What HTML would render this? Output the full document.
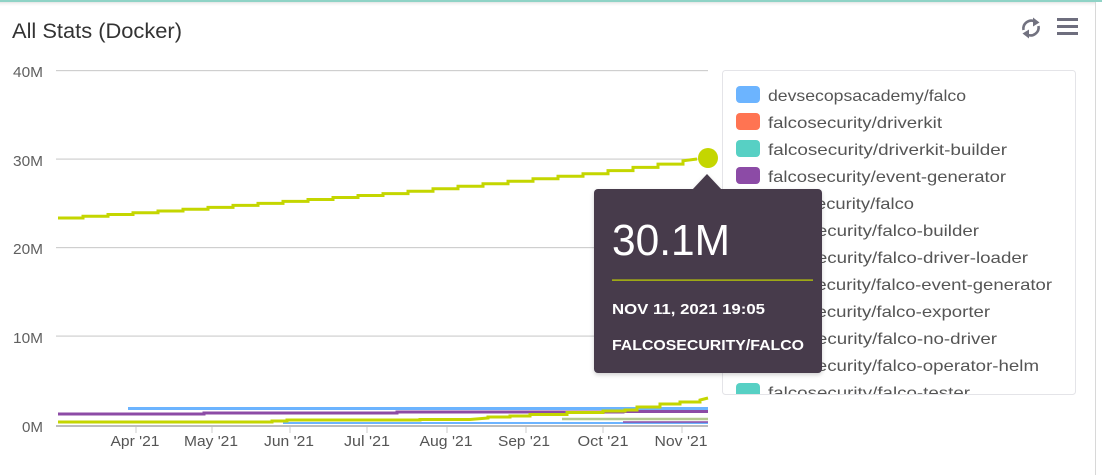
<!DOCTYPE html>
<html><head><meta charset="utf-8"><style>
html,body{margin:0;padding:0;background:#fff;width:1102px;height:475px;overflow:hidden}
svg{display:block}
text{font-family:"Liberation Sans",sans-serif}
</style></head><body>
<svg width="1102" height="475" viewBox="0 0 1102 475" xmlns="http://www.w3.org/2000/svg">
<defs>
<linearGradient id="sh" x1="0" y1="0" x2="0" y2="1"><stop offset="0" stop-color="#e4e4e4"/><stop offset="1" stop-color="#fff" stop-opacity="0"/></linearGradient>
<clipPath id="lg"><rect x="723" y="71" width="352" height="323"/></clipPath>
<filter id="ds" x="-10%" y="-10%" width="120%" height="125%"><feDropShadow dx="0" dy="2" stdDeviation="2" flood-color="#000" flood-opacity="0.18"/></filter>
</defs>
<rect x="0" y="0" width="1102" height="475" fill="#fff"/>
<rect x="0" y="2" width="1095" height="5" fill="url(#sh)"/>
<rect x="0" y="0" width="1102" height="2" fill="#8fd3c6"/>
<rect x="1095" y="2" width="1" height="473" fill="#d8d8d8"/>

<text x="12" y="38" font-size="21" fill="#333" textLength="170" lengthAdjust="spacingAndGlyphs">All Stats (Docker)</text>

<!-- refresh icon -->
<g fill="none" stroke="#727280" stroke-width="2.6">
<path d="M1023.5,30 A8,8 0 0 1 1035,21.5"/>
<path d="M1038.5,26 A8,8 0 0 1 1027,34.5"/>
</g>
<polygon points="1033,17.5 1039.5,22.5 1033,26.5" fill="#727280"/>
<polygon points="1029,38.5 1022.5,33.5 1029,29.5" fill="#727280"/>
<!-- hamburger -->
<rect x="1057" y="18" width="21" height="3" fill="#6e6e7e"/>
<rect x="1057" y="25" width="21" height="3" fill="#6e6e7e"/>
<rect x="1057" y="32" width="21" height="3" fill="#6e6e7e"/>

<!-- grid -->
<g fill="#cfcfcf">
<rect x="56" y="70" width="652" height="1.2"/>
<rect x="56" y="158.5" width="652" height="1.2"/>
<rect x="56" y="247" width="652" height="1.2"/>
<rect x="56" y="335.5" width="652" height="1.2"/>
</g>
<g font-size="15" fill="#606060" text-anchor="end">
<text x="43" y="77" textLength="30" lengthAdjust="spacingAndGlyphs">40M</text>
<text x="43" y="166" textLength="30" lengthAdjust="spacingAndGlyphs">30M</text>
<text x="43" y="254" textLength="30" lengthAdjust="spacingAndGlyphs">20M</text>
<text x="43" y="343" textLength="30" lengthAdjust="spacingAndGlyphs">10M</text>
<text x="43" y="432" textLength="21" lengthAdjust="spacingAndGlyphs">0M</text>
</g>

<!-- lower series -->
<g fill="none" stroke-linejoin="miter">
<polyline points="128,408.5 708,408.5" stroke="#6cb4ff" stroke-width="3"/>
<polyline points="58,414 204,414 204,413 397,413 397,412 623,412 623,411.5 708,411.5" stroke="#8c4ba6" stroke-width="3"/>
<polyline points="562,419 708,419" stroke="#b3c98e" stroke-width="2.5"/>
<polyline points="283,423 708,423" stroke="#6cb4ff" stroke-width="2"/>
<polyline points="623,422 708,422" stroke="#8c4ba6" stroke-width="1.5"/>
<polyline points="58,422 272,422 272,421 287,421 287,420 400,420 420,420 420,419.5 470,419.5 488,418 488,417 510,417 510,416 530,416 530,414.5 567,414.5 567,412.5 603,412.5 603,411 625,411 625,410 637,410 637,407 660,407 660,404 680,404 680,402 700,402 700,400 708,398" stroke="#c4d600" stroke-width="3"/>
</g>
<rect x="56" y="425" width="652" height="2" fill="#bdbdbd"/>
<g fill="#cccccc">
<rect x="135.5" y="427" width="1" height="6"/>
<rect x="211.5" y="427" width="1" height="6"/>
<rect x="289.5" y="427" width="1" height="6"/>
<rect x="366.5" y="427" width="1" height="6"/>
<rect x="446.5" y="427" width="1" height="6"/>
<rect x="525.5" y="427" width="1" height="6"/>
<rect x="602.5" y="427" width="1" height="6"/>
<rect x="681.5" y="427" width="1" height="6"/>
</g>
<g font-size="15" fill="#555" text-anchor="middle">
<text x="135" y="446" textLength="49" lengthAdjust="spacingAndGlyphs">Apr '21</text>
<text x="211" y="446" textLength="54" lengthAdjust="spacingAndGlyphs">May '21</text>
<text x="289" y="446" textLength="50" lengthAdjust="spacingAndGlyphs">Jun '21</text>
<text x="367" y="446" textLength="46" lengthAdjust="spacingAndGlyphs">Jul '21</text>
<text x="446" y="446" textLength="53" lengthAdjust="spacingAndGlyphs">Aug '21</text>
<text x="524" y="446" textLength="52" lengthAdjust="spacingAndGlyphs">Sep '21</text>
<text x="603" y="446" textLength="51" lengthAdjust="spacingAndGlyphs">Oct '21</text>
<text x="681" y="446" textLength="53" lengthAdjust="spacingAndGlyphs">Nov '21</text>
</g>

<!-- main green series -->
<polyline fill="none" stroke="#c4d600" stroke-width="3" points="58,218 83,218 83,216.2 108,216.2 108,214.5 133,214.5 133,212.7 158,212.7 158,211 183,211 183,209.2 208,209.2 208,207.4 233,207.4 233,205.4 258,205.4 258,203.4 283,203.4 283,201.4 308,201.4 308,199.5 333,199.5 333,197.5 358,197.5 358,195.5 383,195.5 383,193.6 408,193.6 408,191.2 433,191.2 433,188.7 458,188.7 458,186.2 483,186.2 483,183.7 508,183.7 508,181.2 533,181.2 533,178.7 558,178.7 558,176.2 583,176.2 583,173.7 608,173.7 608,170.6 633,170.6 633,167.4 658,167.4 658,164.1 683,164.1 683,160.8 697,159"/>
<circle cx="708" cy="158" r="10" fill="#c4d600"/>

<!-- legend -->
<rect x="722.5" y="70.5" width="353" height="324" rx="3" fill="#fff" stroke="#e4e4e8"/>
<g clip-path="url(#lg)" font-size="16" fill="#555">
<rect x="736" y="86" width="24" height="17" rx="4" fill="#6cb4ff"/>
<text x="768" y="101" textLength="198" lengthAdjust="spacingAndGlyphs">devsecopsacademy/falco</text>
<rect x="736" y="113" width="24" height="17" rx="4" fill="#ff7452"/>
<text x="768" y="128" textLength="174" lengthAdjust="spacingAndGlyphs">falcosecurity/driverkit</text>
<rect x="736" y="140" width="24" height="17" rx="4" fill="#57d0c4"/>
<text x="768" y="155" textLength="239" lengthAdjust="spacingAndGlyphs">falcosecurity/driverkit-builder</text>
<rect x="736" y="167" width="24" height="17" rx="4" fill="#8c4ba6"/>
<text x="768" y="182" textLength="238" lengthAdjust="spacingAndGlyphs">falcosecurity/event-generator</text>
<rect x="736" y="194" width="24" height="17" rx="4" fill="#c4d600"/>
<text x="768" y="209" textLength="146" lengthAdjust="spacingAndGlyphs">falcosecurity/falco</text>
<rect x="736" y="221" width="24" height="17" rx="4" fill="#f9a03f"/>
<text x="768" y="236" textLength="211" lengthAdjust="spacingAndGlyphs">falcosecurity/falco-builder</text>
<rect x="736" y="248" width="24" height="17" rx="4" fill="#b3c98e"/>
<text x="768" y="263" textLength="260" lengthAdjust="spacingAndGlyphs">falcosecurity/falco-driver-loader</text>
<rect x="736" y="275" width="24" height="17" rx="4" fill="#e86f9a"/>
<text x="768" y="290" textLength="284" lengthAdjust="spacingAndGlyphs">falcosecurity/falco-event-generator</text>
<rect x="736" y="302" width="24" height="17" rx="4" fill="#9aa0a6"/>
<text x="768" y="317" textLength="222" lengthAdjust="spacingAndGlyphs">falcosecurity/falco-exporter</text>
<rect x="736" y="329" width="24" height="17" rx="4" fill="#6cb4ff"/>
<text x="768" y="344" textLength="229" lengthAdjust="spacingAndGlyphs">falcosecurity/falco-no-driver</text>
<rect x="736" y="356" width="24" height="17" rx="4" fill="#ff7452"/>
<text x="768" y="371" textLength="271" lengthAdjust="spacingAndGlyphs">falcosecurity/falco-operator-helm</text>
<rect x="736" y="383" width="24" height="17" rx="4" fill="#57d0c4"/>
<text x="768" y="398" textLength="202" lengthAdjust="spacingAndGlyphs">falcosecurity/falco-tester</text>
</g>

<!-- tooltip -->
<g filter="url(#ds)">
<rect x="594" y="189" width="228" height="184" rx="4" fill="#463a4b"/>
<polygon points="692,190 707,174 722,190" fill="#463a4b"/>
</g>
<text x="612" y="255" font-size="44" fill="#fff" textLength="118" lengthAdjust="spacingAndGlyphs">30.1M</text>
<rect x="612" y="279.5" width="201" height="1.2" fill="#c4d600"/>
<text x="612" y="314" font-size="15" font-weight="bold" fill="#fff" textLength="153" lengthAdjust="spacingAndGlyphs">NOV 11, 2021 19:05</text>
<text x="612" y="350" font-size="15" font-weight="bold" fill="#fff" textLength="192" lengthAdjust="spacingAndGlyphs">FALCOSECURITY/FALCO</text>
</svg>
</body></html>
